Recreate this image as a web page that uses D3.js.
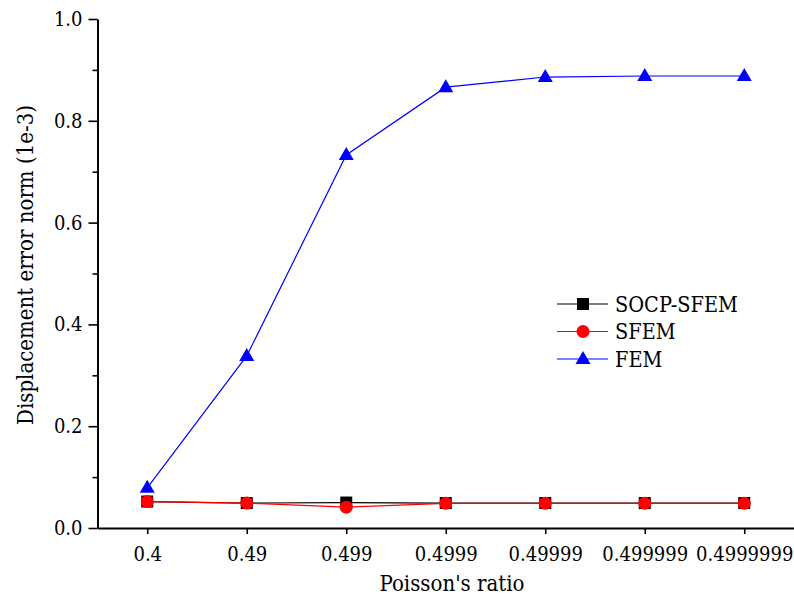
<!DOCTYPE html>
<html>
<head>
<meta charset="utf-8">
<script src="https://cdn.jsdelivr.net/npm/d3@7"></script>
<style>
  body { margin: 0; background: #fff; }
  svg { display: block; }
  svg text { font-family: "DejaVu Serif Condensed", "DejaVu Serif", serif; font-stretch: condensed; fill: #000; }
</style>
</head>
<body>
<svg id="chart" width="794" height="601"></svg>
<script>
// data
var categories = ['0.4', '0.49', '0.499', '0.4999', '0.49999', '0.499999', '0.4999999'];
var socpSfem = [0.052, 0.049, 0.050, 0.049, 0.049, 0.049, 0.049];
var sfem = [0.052, 0.049, 0.041, 0.0485, 0.0485, 0.0485, 0.0485];
var fem = [0.079, 0.338, 0.733, 0.866, 0.886, 0.888, 0.888];
var yTicks = [0, 0.2, 0.4, 0.6, 0.8, 1.0];
var yMinorTicks = [0.1, 0.3, 0.5, 0.7, 0.9];

var series = [
  { name: 'SOCP-SFEM', values: socpSfem, color: '#000000', marker: 'square' },
  { name: 'SFEM', values: sfem, color: '#ff0000', marker: 'circle' },
  { name: 'FEM', values: fem, color: '#0000ff', marker: 'triangle' }
];

var svg = d3.select('#chart');

var x = d3.scalePoint()
  .domain(categories)
  .range([97.5, 794])
  .padding(0.5);

var y = d3.scaleLinear()
  .domain([0, 1])
  .range([528, 19]);

// axes
var gx = svg.append('g')
  .attr('transform', 'translate(0,528)')
  .call(d3.axisBottom(x).tickSize(6).tickPadding(13).tickSizeOuter(0));

var gy = svg.append('g')
  .attr('transform', 'translate(97.5,0)')
  .call(d3.axisLeft(y).tickValues(yTicks).tickFormat(d3.format('.1f'))
    .tickSize(9).tickPadding(6).tickSizeOuter(0));

svg.append('g')
  .attr('transform', 'translate(97.5,0)')
  .call(d3.axisLeft(y).tickValues(yMinorTicks).tickFormat('').tickSize(5).tickSizeOuter(0))
  .call(function(g) { g.select('.domain').remove(); });

svg.selectAll('g').attr('font-family', null);
svg.selectAll('.domain').attr('stroke', '#000').attr('stroke-width', 2);
svg.selectAll('.tick line').attr('stroke', '#000').attr('stroke-width', 1.6);
svg.selectAll('.tick text').attr('font-size', 20);

// axis titles
svg.append('text')
  .attr('x', 452)
  .attr('y', 591)
  .attr('text-anchor', 'middle')
  .attr('font-size', 22)
  .text("Poisson's ratio");

svg.append('text')
  .attr('transform', 'translate(33,265) rotate(-90)')
  .attr('text-anchor', 'middle')
  .attr('font-size', 22)
  .text('Displacement error norm (1e-3)');

function drawMarker(sel, type, color) {
  if (type === 'square') {
    sel.append('rect')
      .attr('x', -6).attr('y', -6)
      .attr('width', 12).attr('height', 12)
      .attr('fill', color);
  } else if (type === 'circle') {
    sel.append('circle')
      .attr('r', 6.5)
      .attr('fill', color);
  } else {
    sel.append('path')
      .attr('d', 'M0,-8L7.5,5L-7.5,5Z')
      .attr('fill', color);
  }
}

var line = d3.line()
  .x(function(d, i) { return x(categories[i]); })
  .y(function(d) { return y(d); });

series.forEach(function(s) {
  var g = svg.append('g').attr('class', 'series');
  g.append('path')
    .datum(s.values)
    .attr('d', line)
    .attr('fill', 'none')
    .attr('stroke', s.color)
    .attr('stroke-width', 1.2);
  g.selectAll('.pt')
    .data(s.values)
    .enter().append('g')
    .attr('class', 'pt')
    .attr('transform', function(d, i) { return 'translate(' + x(categories[i]) + ',' + y(d) + ')'; })
    .each(function() { drawMarker(d3.select(this), s.marker, s.color); });
});

// legend
var legend = svg.append('g')
  .selectAll('g')
  .data(series)
  .enter().append('g')
  .attr('transform', function(d, i) { return 'translate(557,' + (304 + i * 27.5) + ')'; });

legend.append('line')
  .attr('x1', 0).attr('x2', 51)
  .attr('stroke', function(d) { return d.color; })
  .attr('stroke-width', 1.2);

legend.append('g')
  .attr('transform', 'translate(26,0)')
  .each(function(d) { drawMarker(d3.select(this), d.marker, d.color); });

legend.append('text')
  .attr('x', 58)
  .attr('dy', '0.35em')
  .attr('font-size', 21.5)
  .text(function(d) { return d.name; });
</script>
</body>
</html>
